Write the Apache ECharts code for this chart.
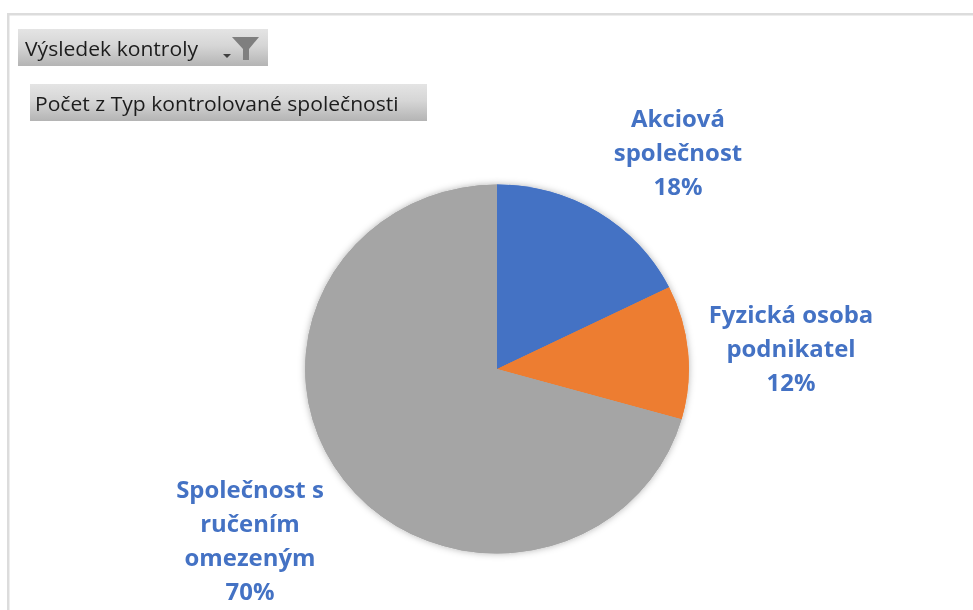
<!DOCTYPE html>
<html><head><meta charset="utf-8">
<style>html,body{margin:0;padding:0;background:#fff;overflow:hidden}
#c{width:936px;height:610px;transform-origin:0 0;transform:scale(1.04,1)}</style>
<script src="https://cdn.jsdelivr.net/npm/echarts@6/dist/echarts.min.js"></script>
</head><body><div id="c"></div>
<script>
// Data
const categories = ['Akciová\nspolečnost', 'Fyzická osoba\npodnikatel', 'Společnost s\nručením\nomezeným'];
const values = [17.7, 11.7, 70.6];
const filterTitle = 'Výsledek kontroly';
const valueTitle = 'Počet z Typ kontrolované společnosti';
// Styles
const colors = ['#4472C4', '#ED7D31', '#A5A5A5'];
const SX = 1.04;
const labelCentres = [[678, 152], [791, 348], [250, 540]];
const px = x => x / SX;
const grad = {type:'linear',x:0,y:0,x2:0,y2:1,colorStops:[{offset:0,color:'#E4E4E4'},{offset:0.45,color:'#D6D6D6'},{offset:1,color:'#B4B4B4'}]};
const headFont = '20.3px "Open Sans"';
const pieData = categories.map((name,i)=>({name,value:values[i],itemStyle:{color:colors[i]}}));
const chart = echarts.init(document.getElementById('c'), null, {renderer:'svg'});
chart.setOption({
  animation:false,
  backgroundColor:'#fff',
  graphic:[
    {type:'rect',shape:{x:px(7),y:13,width:px(973),height:2.5},style:{fill:'#DCDCDC'},silent:true},
    {type:'rect',shape:{x:px(7),y:13,width:px(2.5),height:600},style:{fill:'#DCDCDC'},silent:true},
    {type:'rect',shape:{x:px(18),y:29,width:px(250),height:37},style:{fill:grad},silent:true},
    {type:'rect',shape:{x:px(30),y:84,width:px(397),height:37},style:{fill:grad},silent:true},
    {type:'text',x:px(25),y:48,style:{text:filterTitle,font:headFont,fill:'#1c1c1c',verticalAlign:'middle'},silent:true},
    {type:'text',x:px(35),y:103,style:{text:valueTitle,font:headFont,fill:'#1c1c1c',verticalAlign:'middle'},silent:true},
    {type:'polygon',shape:{points:[[px(232),37],[px(259),37],[px(249),49],[px(249),60],[px(243),60],[px(243),49]]},style:{fill:'#7F7F7F'},silent:true},
    {type:'polygon',shape:{points:[[px(223),54],[px(231),54],[px(227),58]]},style:{fill:'#404040'},silent:true}
  ],
  series:[{
    type:'pie',
    silent:true,
    center:[px(497),369],
    radius:184.5,
    startAngle:90,
    data:pieData,
    itemStyle:{shadowBlur:7,shadowColor:'rgba(0,0,0,0.3)'},
    label:{show:false},
    labelLine:{show:false},
    tooltip:{show:false}
  },{
    type:'pie',
    center:[px(497),369],
    radius:184.5,
    startAngle:90,
    clockwise:true,
    percentPrecision:0,
    data:pieData,
    emphasis:{disabled:true},
    labelLine:{show:false},
    label:{show:true,position:'outside',formatter:'{b}\n{d}%',color:'#4472C4',
      fontFamily:'"Open Sans"',fontWeight:'bold',fontSize:23,lineHeight:34,align:'center'},
    labelLayout:p=>({x:px(labelCentres[p.dataIndex][0]),y:labelCentres[p.dataIndex][1],align:'center',verticalAlign:'middle'})
  }]
});
</script></body></html>
